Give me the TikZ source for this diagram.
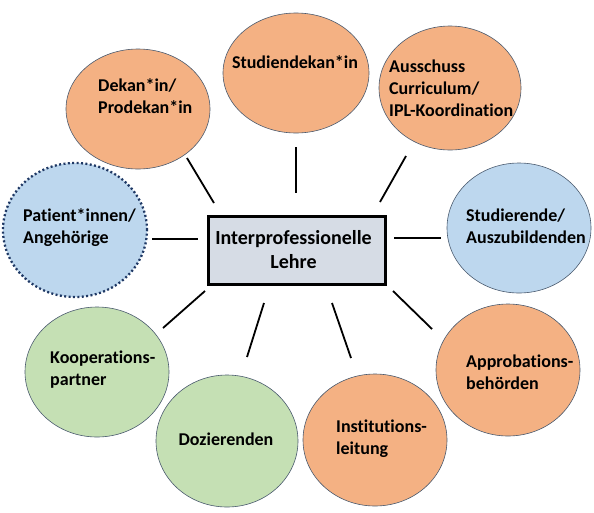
\documentclass[tikz,border=0pt]{standalone}
\usepackage{fontspec}
\setmainfont{Carlito}[Ligatures=NoCommon]
\usetikzlibrary{shapes.geometric}
\definecolor{orangefill}{HTML}{F4B183}
\definecolor{bluefill}{HTML}{BDD7EE}
\definecolor{greenfill}{HTML}{C5E0B4}
\definecolor{boxfill}{HTML}{D6DCE5}
\definecolor{rimcol}{HTML}{4A5A6E}
\definecolor{dotcol}{HTML}{1F3864}
\tikzset{
  bubble/.style={ellipse, draw=rimcol, line width=0.6pt, inner sep=0pt},
  orangeb/.style={bubble, fill=orangefill},
  blueb/.style={bubble, fill=bluefill},
  greenb/.style={bubble, fill=greenfill},
  dottedb/.style={ellipse, inner sep=0pt, fill=bluefill, draw=dotcol, line width=2.3pt, dash pattern=on 2pt off 2.4pt},
  lbl/.style={font=\bfseries\fontsize{18}{22}\selectfont, align=left, inner sep=0pt, text=black},
  centerbox/.style={draw=black, line width=3pt, fill=boxfill, minimum width=177pt, minimum height=68pt, inner sep=0pt},
  centerlbl/.style={font=\bfseries\fontsize{20}{24}\selectfont, align=center, inner sep=0pt},
  link/.style={draw=black, line width=1.8pt}
}
\begin{document}
\begin{tikzpicture}[x=1pt,y=-1pt]
\useasboundingbox (0,0) rectangle (594,512);
% bubbles
\node[orangeb, minimum width=144pt, minimum height=120pt] (dekan) at (138,109) {};
\node[orangeb, minimum width=146pt, minimum height=120pt] (studdek) at (296,73) {};
\node[orangeb, minimum width=142pt, minimum height=124pt] (ausschuss) at (450,88) {};
\node[dottedb, minimum width=144pt, minimum height=134pt] (patient) at (75,230) {};
\node[blueb, minimum width=144pt, minimum height=130pt] (studierende) at (519,228) {};
\node[greenb, minimum width=144pt, minimum height=130pt] (koop) at (97,372) {};
\node[greenb, minimum width=142pt, minimum height=132pt] (doz) at (227,441) {};
\node[orangeb, minimum width=144pt, minimum height=132pt] (inst) at (375,440) {};
\node[orangeb, minimum width=144pt, minimum height=132pt] (approb) at (508,370) {};
% center box
\node[centerbox] (center) at (296.5,250) {};
\node[centerlbl] (centertxt) at (293.5,250) {Interprofessionelle\\Lehre};
% labels
\node[lbl, anchor=west] (tdekan) at (98,96) {Dekan*in/\\Prodekan*in};
\node[lbl] (tstuddek) at (295,62) {Studiendekan*in};
\node[lbl, anchor=west] (tausschuss) at (389,88) {Ausschuss\\Curriculum/\\IPL-Koordination};
\node[lbl, anchor=west] (tpatient) at (23,228) {Patient*innen/\\Angehörige};
\node[lbl, anchor=west] (tstudierende) at (466,226) {Studierende/\\Auszubildenden};
\node[lbl, anchor=west] (tkoop) at (50,370) {Kooperations-\\partner};
\node[lbl] (tdoz) at (226,439) {Dozierenden};
\node[lbl, anchor=west] (tinst) at (336,439) {Institutions-\\leitung};
\node[lbl, anchor=west] (tapprob) at (466,372) {Approbations-\\behörden};
% connector end points
\coordinate (a1) at (187,158); \coordinate (a2) at (214,203);
\coordinate (b1) at (296,147); \coordinate (b2) at (296,193);
\coordinate (c1) at (406,156); \coordinate (c2) at (380,202);
\coordinate (d1) at (152,239); \coordinate (d2) at (198,239);
\coordinate (e1) at (394,238); \coordinate (e2) at (441,238);
\coordinate (f1) at (393,291); \coordinate (f2) at (432,329);
\coordinate (g1) at (163,328); \coordinate (g2) at (205,291);
\coordinate (h1) at (247,357); \coordinate (h2) at (264,303);
\coordinate (i1) at (332,303); \coordinate (i2) at (351,358);
\draw[link] (a1) -- (a2);
\draw[link] (b1) -- (b2);
\draw[link] (c1) -- (c2);
\draw[link] (d1) -- (d2);
\draw[link] (e1) -- (e2);
\draw[link] (f1) -- (f2);
\draw[link] (g1) -- (g2);
\draw[link] (h1) -- (h2);
\draw[link] (i1) -- (i2);
\end{tikzpicture}
\end{document}
